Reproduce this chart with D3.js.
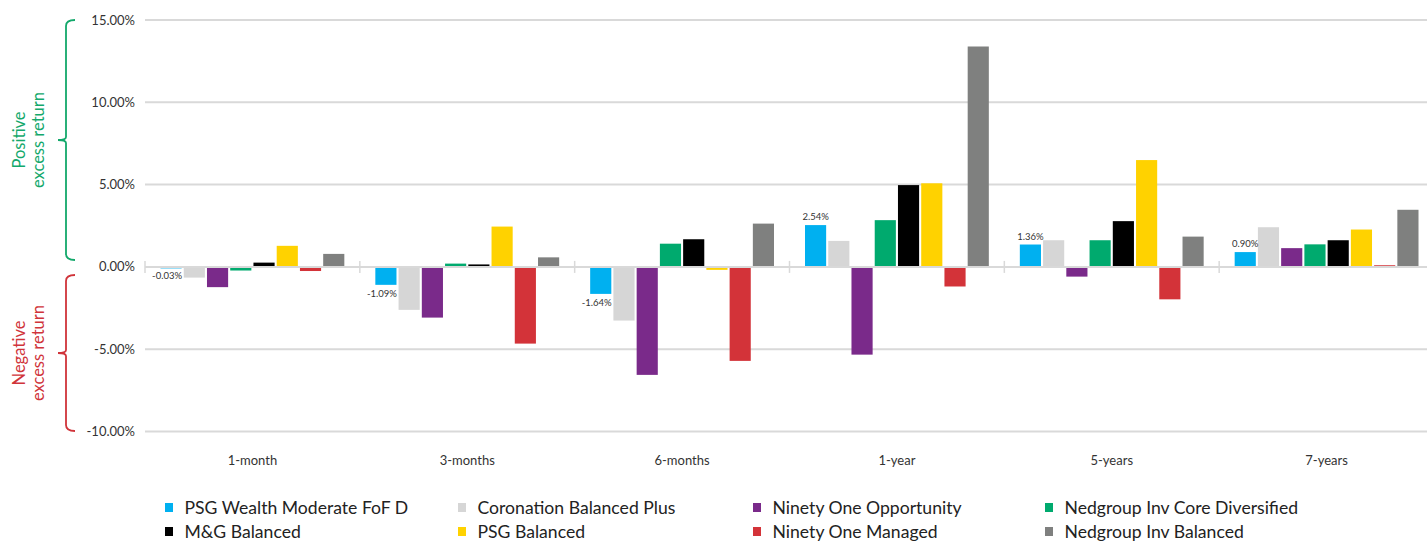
<!DOCTYPE html>
<html>
<head>
<meta charset="utf-8">
<script src="https://cdn.jsdelivr.net/npm/d3@7"></script>
<style>
    body { margin: 0; background: #fff; }
    svg { display: block; font-family: Lato, "Open Sans", sans-serif; }
</style>
</head>
<body>
<svg id="chart"></svg>
<script>
const periods = ["1-month", "3-months", "6-months", "1-year", "5-years", "7-years"];
const funds = [
    "PSG Wealth Moderate FoF D", "Coronation Balanced Plus", "Ninety One Opportunity",
    "Nedgroup Inv Core Diversified", "M&G Balanced", "PSG Balanced",
    "Ninety One Managed", "Nedgroup Inv Balanced"
];
const fundColors = ["#00b0f0", "#d6d6d6", "#7a2a8a", "#00aa6e", "#000000", "#ffd200", "#d33339", "#7f807f"];

// one array per period, in fund order
const oneMonth = [-0.03, -0.65, -1.23, -0.22, 0.26, 1.28, -0.25, 0.79];
const threeMonths = [-1.09, -2.61, -3.08, 0.20, 0.15, 2.45, -4.66, 0.58];
const sixMonths = [-1.64, -3.26, -6.56, 1.41, 1.68, -0.18, -5.71, 2.63];
const oneYear = [2.54, 1.58, -5.33, 2.84, 4.97, 5.08, -1.19, 13.39];
const fiveYears = [1.36, 1.62, -0.59, 1.62, 2.78, 6.49, -1.97, 1.84];
const sevenYears = [0.90, 2.41, 1.14, 1.37, 1.62, 2.27, 0.10, 3.47];
const values = [oneMonth, threeMonths, sixMonths, oneYear, fiveYears, sevenYears];

const yTicks = [-10, -5, 0, 5, 10, 15];

const width = 1427, height = 542;
const svg = d3.select("#chart").attr("width", width).attr("height", height);

// plain hyphen instead of d3's unicode minus, like the original
const pct = d => d3.format(".2f")(d).replace("\u2212", "-") + "%";

const x0 = d3.scaleBand().domain(periods).range([145, 1434]).padding(0);
const x1 = d3.scaleBand().domain(d3.range(funds.length))
    .range([15.5, x0.bandwidth() - 15.5]).paddingInner(0.09);
const y = d3.scaleLinear().domain([-10, 15]).range([431.5, 20]);

// gridlines
svg.append("g")
    .selectAll("line")
    .data(yTicks.filter(d => d !== 0))
    .join("line")
    .attr("x1", 145).attr("x2", width)
    .attr("y1", d => y(d)).attr("y2", d => y(d))
    .attr("stroke", "#d9d9d9").attr("stroke-width", 2);

// y tick labels
svg.append("g")
    .selectAll("text")
    .data(yTicks)
    .join("text")
    .attr("x", 135)
    .attr("y", d => y(d))
    .attr("dy", "0.35em")
    .attr("text-anchor", "end")
    .attr("font-size", 13)
    .attr("fill", "#333")
    .text(pct);

// bars
const groups = svg.append("g")
    .selectAll("g")
    .data(periods)
    .join("g")
    .attr("transform", d => `translate(${x0(d)},0)`);

groups.selectAll("rect")
    .data((p, i) => values[i].map((v, j) => ({fund: j, value: v})))
    .join("rect")
    .attr("x", d => x1(d.fund))
    .attr("width", x1.bandwidth())
    .attr("y", d => Math.min(y(d.value), y(0)))
    .attr("height", d => Math.max(1.5, Math.abs(y(d.value) - y(0))))
    .attr("fill", d => fundColors[d.fund]);

// data labels on first fund
groups.append("text")
    .datum((p, i) => values[i][0])
    .attr("x", x1(0) + x1.bandwidth() / 2)
    .attr("y", d => d < 0 ? y(d) + 12 : y(d) - 5)
    .attr("dx", d => d < 0 ? -4 : 0)
    .attr("text-anchor", "middle")
    .attr("font-size", 9.5)
    .attr("fill", "#333")
    .text(pct);

// zero axis with category ticks
const zeroY = y(0);
svg.append("line")
    .attr("x1", 145).attr("x2", width)
    .attr("y1", zeroY).attr("y2", zeroY)
    .attr("stroke", "#d9d9d9").attr("stroke-width", 2);
svg.append("g")
    .selectAll("line")
    .data(periods.map(p => x0(p)).concat([x0.range()[1]]))
    .join("line")
    .attr("x1", d => d).attr("x2", d => d)
    .attr("y1", zeroY - 6).attr("y2", zeroY + 6)
    .attr("stroke", "#d9d9d9").attr("stroke-width", 1.5);

// category labels
svg.append("g")
    .selectAll("text")
    .data(periods)
    .join("text")
    .attr("x", d => x0(d) + x0.bandwidth() / 2)
    .attr("y", 465)
    .attr("text-anchor", "middle")
    .attr("font-size", 13)
    .attr("fill", "#333")
    .text(d => d);

// brackets on the left
function bracket(top, bottom, color) {
    const xb = 66, mid = (top + bottom) / 2;
    const path = `M${xb + 9},${top} Q${xb},${top} ${xb},${top + 6} L${xb},${mid - 3}` +
        ` Q${xb},${mid} ${xb - 8},${mid} Q${xb},${mid} ${xb},${mid + 3} L${xb},${bottom - 6}` +
        ` Q${xb},${bottom} ${xb + 9},${bottom}`;
    svg.append("path").attr("d", path)
        .attr("fill", "none").attr("stroke", color).attr("stroke-width", 1.8);
}
bracket(20, 260, "#13a86b");
bracket(275, 431, "#d0343a");

function sideLabel(lines, cy, color) {
    const t = svg.append("text")
        .attr("transform", `translate(25,${cy}) rotate(-90)`)
        .attr("text-anchor", "middle")
        .attr("font-size", 16.5)
        .attr("fill", color);
    lines.forEach((l, i) => t.append("tspan").attr("x", 0).attr("dy", i === 0 ? 0 : 18.5).text(l));
}
sideLabel(["Positive", "excess return"], 140, "#13a86b");
sideLabel(["Negative", "excess return"], 353, "#d0343a");

// legend
const legendX = [165, 458, 753, 1045];
const legendY = [508, 532];
const legend = svg.append("g")
    .selectAll("g")
    .data(funds)
    .join("g")
    .attr("transform", (d, i) => `translate(${legendX[i % 4]},${legendY[Math.floor(i / 4)]})`);
legend.append("rect")
    .attr("x", 0).attr("y", -5)
    .attr("width", 8).attr("height", 9)
    .attr("fill", (d, i) => fundColors[i]);
legend.append("text")
    .attr("x", 19.5)
    .attr("dy", "0.35em")
    .attr("font-size", 17.6)
    .attr("fill", "#222")
    .text(d => d);
</script>
</body>
</html>
